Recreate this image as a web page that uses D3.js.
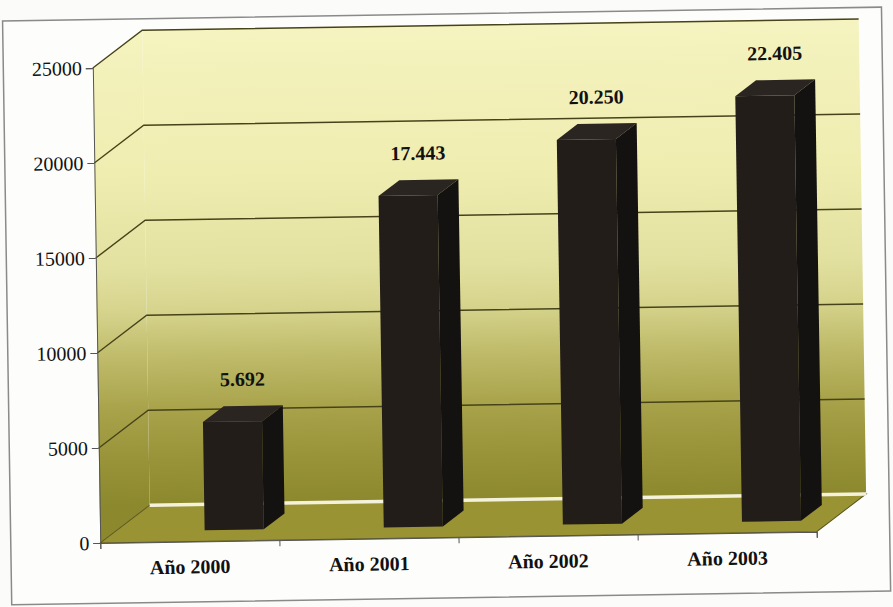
<!DOCTYPE html>
<html>
<head>
<meta charset="utf-8">
<script src="https://cdn.jsdelivr.net/npm/d3@7"></script>
<style>
  body { margin: 0; background: #fbfbf9; }
  svg { display: block; }
</style>
</head>
<body>
<div id="chart"></div>
<script>
// data
var years = ["Año 2000", "Año 2001", "Año 2002", "Año 2003"];
var values = [5692, 17443, 20250, 22405];
var yTicks = [0, 5000, 10000, 15000, 20000, 25000];

var W = 893, H = 607;
var x0 = 96.5, x1 = 813, y0 = 537.5, yTop = 62.5;
var DX = 50, DY = -37;          // depth of the box
var fFront = 0.3, fBar = 0.42;  // where bars sit in the depth

var x = d3.scaleBand().domain(years).range([x0, x1]);
var y = d3.scaleLinear().domain([0, 25000]).range([y0, yTop]);
var bw = x.bandwidth();

var es = d3.formatLocale({decimal: ",", thousands: ".", grouping: [3], currency: ["", ""]});
var fmt = es.format(",");

var svg = d3.select("#chart").append("svg")
    .attr("width", W)
    .attr("height", H);

var defs = svg.append("defs");
var grad = defs.append("linearGradient")
    .attr("id", "wall")
    .attr("gradientUnits", "userSpaceOnUse")
    .attr("x1", 0).attr("y1", yTop + DY)
    .attr("x2", 0).attr("y2", y0 + DY);
[[0, "#f5f3bf"], [0.3, "#efedb0"], [0.5, "#e3e1a0"], [0.6, "#d4d28a"],
 [0.7, "#bcb866"], [0.8, "#a8a34a"], [0.9, "#99943a"], [1, "#8c882e"]]
  .forEach(function(s) {
    grad.append("stop").attr("offset", s[0]).attr("stop-color", s[1]);
  });

// the scan is a little tilted
var g = svg.append("g")
    .attr("transform", "rotate(-0.9, 446, 300)");

// outer frame
g.append("rect")
    .attr("x", 7).attr("y", 14)
    .attr("width", 879).attr("height", 584)
    .attr("fill", "#fdfdfb")
    .attr("stroke", "#8a8a8a")
    .attr("stroke-width", 1.5);

// left wall
g.append("path")
    .attr("d", "M" + x0 + "," + y0 + "L" + x0 + "," + yTop +
               "L" + (x0 + DX) + "," + (yTop + DY) + "L" + (x0 + DX) + "," + (y0 + DY) + "Z")
    .attr("fill", "url(#wall)");

// back wall
g.append("rect")
    .attr("x", x0 + DX).attr("y", yTop + DY)
    .attr("width", x1 - x0).attr("height", y0 - yTop)
    .attr("fill", "url(#wall)");

// gridlines on both walls
g.selectAll(".grid")
    .data(yTicks.filter(d => d > 0))
    .enter().append("path")
    .attr("class", "grid")
    .attr("fill", "none")
    .attr("stroke", "#46431a")
    .attr("stroke-width", 1.4)
    .attr("d", d => "M" + x0 + "," + y(d) + "L" + (x0 + DX) + "," + (y(d) + DY) +
                    "L" + (x1 + DX) + "," + (y(d) + DY));

// floor
g.append("path")
    .attr("d", "M" + x0 + "," + y0 + "L" + x1 + "," + y0 +
               "L" + (x1 + DX) + "," + (y0 + DY) + "L" + (x0 + DX) + "," + (y0 + DY) + "Z")
    .attr("fill", "#9a9333")
    .attr("stroke", "#5a5620")
    .attr("stroke-width", 1);

// light line where back wall meets floor
g.append("line")
    .attr("x1", x0 + DX).attr("x2", x1 + DX)
    .attr("y1", y0 + DY).attr("y2", y0 + DY)
    .attr("stroke", "#f5f2dc")
    .attr("stroke-width", 3.5);

// axes
var yAxis = g.append("g")
    .attr("transform", "translate(" + x0 + ",0)")
    .call(d3.axisLeft(y).tickValues(yTicks).tickSize(7).tickPadding(4).tickFormat(d3.format("d")));
yAxis.select(".domain").attr("stroke", "#555");
yAxis.selectAll(".tick line").attr("stroke", "#555");
yAxis.selectAll("text")
    .attr("fill", "#111")
    .style("font-family", "'Liberation Serif', 'Times New Roman', serif")
    .style("font-size", "20px");

var edges = d3.scaleLinear().domain([0, years.length]).range([x0, x1]);
var xAxis = g.append("g")
    .attr("transform", "translate(0," + y0 + ")")
    .call(d3.axisBottom(edges).ticks(years.length).tickSize(6).tickFormat(""));
xAxis.select(".domain").attr("stroke", "#555");
xAxis.selectAll(".tick line").attr("stroke", "#555");

g.selectAll(".cat")
    .data(years)
    .enter().append("text")
    .attr("class", "cat")
    .attr("x", d => x(d) + bw / 2)
    .attr("y", y0 + 32)
    .attr("text-anchor", "middle")
    .style("font-family", "'Liberation Serif', 'Times New Roman', serif")
    .style("font-size", "20px")
    .style("font-weight", "bold")
    .attr("fill", "#111")
    .text(d => d);

// 3d bars
var bdx = fBar * DX, bdy = fBar * DY;
var bwid = 0.33 * bw;
function bx(d) { return x(d) + 0.5 * bw + fFront * DX; }
var bars = g.selectAll(".bar")
    .data(years.map((c, i) => ({cat: c, value: values[i]})))
    .enter().append("g")
    .attr("class", "bar");

bars.append("rect")
    .attr("x", d => bx(d.cat))
    .attr("y", d => y(d.value) + fFront * DY)
    .attr("width", bwid)
    .attr("height", d => y(0) - y(d.value))
    .attr("fill", "#221d19");

bars.append("path")
    .attr("fill", "#2b2521")
    .attr("d", d => {
        var l = bx(d.cat), t = y(d.value) + fFront * DY;
        return "M" + l + "," + t + "L" + (l + bdx) + "," + (t + bdy) +
               "L" + (l + bwid + bdx) + "," + (t + bdy) + "L" + (l + bwid) + "," + t + "Z";
    });

bars.append("path")
    .attr("fill", "#141210")
    .attr("d", d => {
        var r = bx(d.cat) + bwid, t = y(d.value) + fFront * DY, b = y0 + fFront * DY;
        return "M" + r + "," + t + "L" + (r + bdx) + "," + (t + bdy) +
               "L" + (r + bdx) + "," + (b + bdy) + "L" + r + "," + b + "Z";
    });

bars.append("text")
    .attr("x", d => bx(d.cat) + (bwid + bdx) / 2)
    .attr("y", d => y(d.value) + fFront * DY + bdy - 20)
    .attr("text-anchor", "middle")
    .style("font-family", "'Liberation Serif', 'Times New Roman', serif")
    .style("font-size", "20px")
    .style("font-weight", "bold")
    .attr("fill", "#111")
    .text(d => fmt(d.value));
</script>
</body>
</html>
